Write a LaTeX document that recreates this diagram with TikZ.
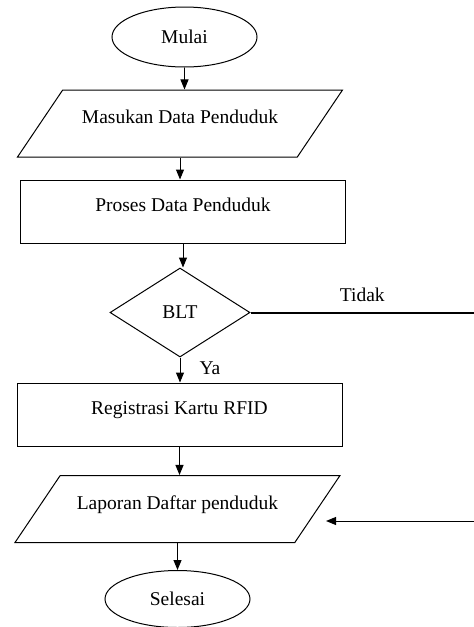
\documentclass[tikz,border=0pt]{standalone}
\usepackage{fontspec}
\setmainfont{Liberation Serif}
\usetikzlibrary{shapes.geometric,arrows.meta}

\begin{document}
\begin{tikzpicture}[x=1pt,y=-1pt,line width=1pt,
    font=\fontsize{19.5}{23}\selectfont,
    term/.style={draw,ellipse,minimum width=145pt,minimum height=60pt,inner sep=0pt},
    io/.style={draw,trapezium,trapezium left angle=56,trapezium right angle=124,
        trapezium stretches body=true,minimum width=325pt,inner xsep=0pt,inner ysep=21.5pt,
        text height=12pt,text depth=12pt},
    proc/.style={draw,rectangle,minimum width=325pt,minimum height=63pt,text height=12pt,text depth=12pt},
    cond/.style={draw,diamond,minimum width=140pt,minimum height=89pt,inner sep=0pt},
    arr/.style={-{Triangle[length=10pt,width=8pt]}}]
    \useasboundingbox (0,0) rectangle (474,627);
    \node[term] (a) at (184.5,37) {Mulai};
    \node[io] (b) at (180,123.5) {Masukan Data Penduduk};
    \node[proc] (c) at (183,211.5) {Proses Data Penduduk};
    \node[cond] (d) at (180,312.5) {BLT};
    \node[proc] (e) at (179.5,414.5) {Registrasi Kartu RFID};
    \node[io] (f) at (177.5,509) {Laporan Daftar penduduk};
    \node[term,minimum height=57pt] (g) at (177.5,599) {Selesai};
    \coordinate (t) at (474,312.5);
    \coordinate (r) at (474,521);
    % alur utama
    \draw[arr] (a.south) -- (a.south |- b.north);
    \draw[arr] (b.south) -- (b.south |- c.north);
    \draw[arr] (c.south) -- (c.south |- d.north);
    \draw[arr] (d.south) -- (d.south |- e.north);
    \draw[arr] (e.south) -- (e.south |- f.north);
    \draw[arr] (f.south) -- (f.south |- g.north);
    \node (ya) at (210,368) {Ya};
    % cabang tidak
    \draw[line width=2pt] (d.east) -- node[above=6pt] (ti) {Tidak} (t);
    \draw[arr,shorten >=8pt] (r) -- (r -| f.east);
\end{tikzpicture}
\end{document}
